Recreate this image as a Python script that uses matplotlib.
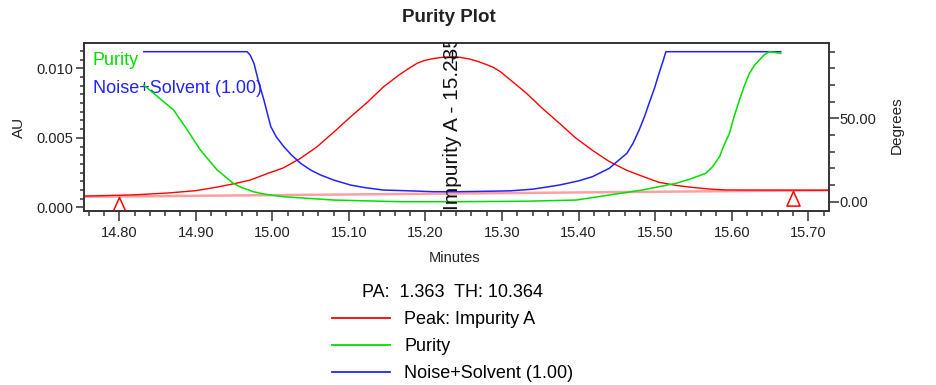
import matplotlib
matplotlib.use("Agg")
import matplotlib.pyplot as plt
from matplotlib.ticker import MultipleLocator, FormatStrFormatter, FixedLocator
from matplotlib.lines import Line2D
from matplotlib.path import Path

plt.rcParams['font.family'] = ['Liberation Sans', 'DejaVu Sans']

# ---- data ----
peak_min = [14.754, 14.82, 14.863, 14.90, 14.928, 14.95, 14.971, 14.992, 15.014, 15.036,
            15.058, 15.08, 15.102, 15.125, 15.145, 15.165, 15.177, 15.189, 15.198, 15.21,
            15.222, 15.232, 15.245, 15.258, 15.268, 15.278, 15.288, 15.298, 15.31, 15.32,
            15.332, 15.353, 15.375, 15.396, 15.418, 15.44, 15.463, 15.485, 15.505, 15.527,
            15.548, 15.57, 15.592, 15.727]
peak_au = [0.00081, 0.00090, 0.00103, 0.00120, 0.00146, 0.00170, 0.00196, 0.00240, 0.00283, 0.00350,
           0.00434, 0.00540, 0.00650, 0.00760, 0.00866, 0.00950, 0.00995, 0.01036, 0.01055, 0.01070,
           0.01079, 0.01082, 0.01079, 0.01066, 0.01050, 0.01030, 0.01008, 0.00975, 0.00920, 0.00875,
           0.00820, 0.00710, 0.00604, 0.00500, 0.00410, 0.00330, 0.00266, 0.00220, 0.00180, 0.00158,
           0.00144, 0.00132, 0.00125, 0.00123]

baseline_min = [14.754, 15.727]
baseline_au = [0.00076, 0.00123]

mark_min = [14.80, 15.68]
mark_au = [0.00078, 0.00120]

apex_min = 15.235
apex_au = 0.0108
peak_label = "Impurity A - 15.235"

purity_min = [14.832, 14.845, 14.871, 14.889, 14.906, 14.917, 14.928, 14.949, 14.96, 14.975,
              14.99, 15.014, 15.08, 15.167, 15.245, 15.332, 15.397, 15.44, 15.483, 15.527,
              15.545, 15.566, 15.575, 15.584, 15.59, 15.597, 15.603, 15.61, 15.616, 15.623,
              15.63, 15.636, 15.642, 15.649, 15.664]
purity_deg = [70, 65, 55, 43, 31, 25, 19, 11, 8.5, 6,
              4.5, 3, 1, 0, 0, 0.3, 1, 4, 7, 11,
              13.5, 17, 21, 27, 34, 41, 51, 61, 69, 77,
              82, 85, 88, 90, 89]

noise_min = [14.832, 14.967, 14.971, 14.976, 14.982, 14.989, 14.994, 14.998, 15.005, 15.015,
             15.025, 15.037, 15.05, 15.063, 15.08, 15.102, 15.12, 15.145, 15.18, 15.21,
             15.245, 15.31, 15.34, 15.375, 15.40, 15.418, 15.44, 15.45, 15.463, 15.471,
             15.479, 15.486, 15.492, 15.499, 15.505, 15.51, 15.514, 15.664]
noise_deg = [90, 90, 88, 83, 72, 61, 52, 45, 39, 33,
             28, 23, 19, 16, 13, 10, 8.5, 7, 6.5, 6,
             6, 6.5, 7.5, 10, 12.5, 15, 20, 24, 29, 35,
             43, 51, 59, 68, 77, 84, 90, 90]

x_ticks = [14.80, 14.90, 15.00, 15.10, 15.20, 15.30, 15.40, 15.50, 15.60, 15.70]
au_ticks = [0.000, 0.005, 0.010]
deg_ticks = [0, 50]

RED = '#ff0000'
GREEN = '#00e000'
BLUE = '#2222ff'
PINK = '#ffa0a0'
TXT = '#222222'

fig = plt.figure(figsize=(9.36, 3.85), dpi=100)
ax = fig.add_axes([84/936, 1-210.7/385, 745/936, 168/385])
ax2 = ax.twinx()

# red chromatogram + baseline (AU)
ax.plot(baseline_min, baseline_au, color=PINK, lw=1.8, solid_capstyle='butt', zorder=2)
ax.plot(peak_min, peak_au, color=RED, lw=1.0, zorder=3)
tri = Path([(0, 0), (-0.45, -1), (0.45, -1), (0, 0)],
           [Path.MOVETO, Path.LINETO, Path.LINETO, Path.CLOSEPOLY])
ax.plot(mark_min, mark_au, ls='none', marker=tri, markersize=21, mfc='none',
        mec=RED, mew=1.1, zorder=4)

ax.set_xlim(14.754, 15.727)
ax.set_ylim(-0.00024, 0.01184)
ax2.set_ylim(-5.4, 95.4)

# purity / noise (degrees)
ax2.plot(noise_min, noise_deg, color=BLUE, lw=1.1, zorder=3)
ax2.plot(purity_min, purity_deg, color=GREEN, lw=1.1, zorder=3)

# peak label
ax2.text(apex_min, -5.0, peak_label, rotation=90, ha='center', va='bottom',
         fontsize=15, color='#111111', clip_on=True, zorder=6)
ax2.plot([apex_min], [(apex_au + 0.00024) / 0.01208 * 100.8 - 5.4], marker='+',
         color='#111111', markersize=9, mew=1.0, zorder=6)

# in-plot labels
ax.text(0.012, 0.895, 'Purity', transform=ax.transAxes, color=GREEN,
        fontsize=13, va='center', ha='left', zorder=7)
ax.text(0.012, 0.728, 'Noise+Solvent (1.00)', transform=ax.transAxes, color=BLUE,
        fontsize=13, va='center', ha='left', zorder=7)

# axes styling
for a in (ax, ax2):
    for s in a.spines.values():
        s.set_linewidth(1.2)
        s.set_color('#333333')

ax.xaxis.set_major_locator(FixedLocator(x_ticks))
ax.xaxis.set_minor_locator(MultipleLocator(0.02))
ax.xaxis.set_major_formatter(FormatStrFormatter('%.2f'))
ax.yaxis.set_major_locator(FixedLocator(au_ticks))
ax.yaxis.set_minor_locator(MultipleLocator(0.000625))
ax.yaxis.set_major_formatter(FormatStrFormatter('%.3f'))
ax2.yaxis.set_major_locator(FixedLocator(deg_ticks))
ax2.yaxis.set_minor_locator(MultipleLocator(10))
ax2.yaxis.set_major_formatter(FormatStrFormatter('%.2f'))

ax.tick_params(axis='x', which='major', length=7, width=1.1, pad=4,
               labelsize=10.5, labelcolor=TXT, color='#333333')
ax.tick_params(axis='x', which='minor', length=3.5, width=1.1, color='#333333')
ax.tick_params(axis='y', which='major', length=6, width=1.1, pad=1.5,
               labelsize=10.5, labelcolor=TXT, color='#333333')
ax.tick_params(axis='y', which='minor', length=3, width=1.1, color='#333333')
ax2.tick_params(axis='y', which='major', length=7, width=1.1, pad=0.5,
                labelsize=10.5, labelcolor=TXT, color='#333333')
ax2.tick_params(axis='y', which='minor', length=4, width=1.1, color='#333333')

# titles & labels
fig.text(449/936, 1-18/385, 'Purity Plot', ha='center', va='center',
         fontsize=13.5, fontweight='bold', color=TXT)
fig.text(455/936, 1-258/385, 'Minutes', ha='center', va='center',
         fontsize=10.5, color=TXT)
fig.text(19/936, 1-127/385, 'AU', ha='center', va='center', rotation=90,
         fontsize=11, color=TXT)
fig.text(897/936, 1-125/385, 'Degrees', ha='center', va='center', rotation=90,
         fontsize=11, color=TXT)

handles = [Line2D([], [], color=RED, lw=1.3),
           Line2D([], [], color=GREEN, lw=1.3),
           Line2D([], [], color=BLUE, lw=1.3)]
labels = ['Peak: Impurity A', 'Purity', 'Noise+Solvent (1.00)']
fig.legend(handles, labels, loc='upper left', bbox_to_anchor=(332/936, 1-284/385),
           frameon=False, fontsize=13, title='PA:  1.363  TH: 10.364',
           title_fontsize=13, handlelength=3.2, handletextpad=0.8,
           labelspacing=0.56, borderpad=0, borderaxespad=0)

fig.savefig('out.png', dpi=100)
